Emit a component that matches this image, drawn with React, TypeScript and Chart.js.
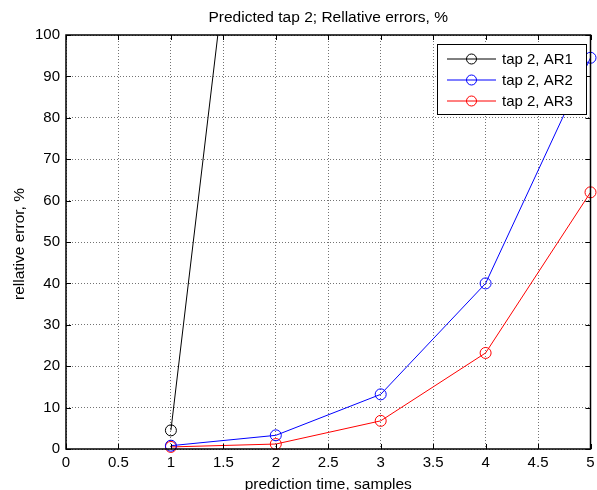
import React, { useEffect, useRef } from "react";
import { Chart, registerables } from "chart.js";

Chart.register(...registerables);

const titleText = "Predicted tap 2; Rellative errors, %";
const xTitle = "prediction time, samples";
const yTitle = "rellative error, %";

const xAR1 = [1, 2];
const ar1 = [4.5, 218];
const xSteps = [1, 2, 3, 4, 5];
const ar2 = [0.8, 3.3, 13.2, 40, 94.5];
const ar3 = [0.5, 1.2, 6.8, 23.2, 62];

const labels = ["tap 2, AR1", "tap 2, AR2", "tap 2, AR3"];
const colors = ["#000000", "#0000ff", "#ff0000"];

const FONT = "'Liberation Sans', Arial, sans-serif";

export default function App() {
  const ref = useRef<HTMLCanvasElement | null>(null);
  useEffect(() => {
    document.body.style.margin = "0";
    const ctx = ref.current!;
    const series = [xAR1.map((x, i) => ({ x, y: ar1[i] })), xSteps.map((x, i) => ({ x, y: ar2[i] })), xSteps.map((x, i) => ({ x, y: ar3[i] }))];

    const framePlugin = {
      id: "frame",
      afterDraw(chart: any) {
        const c = chart.ctx;
        const a = chart.chartArea;
        c.save();
        c.strokeStyle = "#000";
        c.lineWidth = 1;
        const xs = chart.scales.x;
        const ys = chart.scales.y;
        c.beginPath();
        xs.ticks.forEach((t: any) => {
          const px = Math.round(xs.getPixelForValue(t.value)) + 0.5;
          c.moveTo(px, a.bottom);
          c.lineTo(px, a.bottom - 5);
          c.moveTo(px, a.top);
          c.lineTo(px, a.top + 5);
        });
        ys.ticks.forEach((t: any) => {
          const py = Math.round(ys.getPixelForValue(t.value)) + 0.5;
          c.moveTo(a.left, py);
          c.lineTo(a.left + 5, py);
          c.moveTo(a.right, py);
          c.lineTo(a.right - 5, py);
        });
        c.stroke();
        c.lineWidth = 1.5;
        c.strokeRect(a.left, a.top, a.right - a.left, a.bottom - a.top);
        c.fillStyle = "#000";
        c.font = "15.5px " + FONT;
        c.textAlign = "center";
        c.textBaseline = "middle";
        c.fillText(titleText, (a.left + a.right) / 2, 18);
        c.fillText(xTitle, (a.left + a.right) / 2, 485);
        c.save();
        c.translate(20, (a.top + a.bottom) / 2 + 2);
        c.rotate(-Math.PI / 2);
        c.fillText(yTitle, 0, 0);
        c.restore();
        // legend
        const lx = 437, ly = 44, lw = 149, lh = 70;
        c.fillStyle = "#fff";
        c.fillRect(lx, ly, lw, lh);
        c.strokeStyle = "#000";
        c.lineWidth = 1;
        c.strokeRect(lx + 0.5, ly + 0.5, lw, lh);
        c.font = "15px " + FONT;
        c.textAlign = "left";
        labels.forEach((lab, i) => {
          const yy = ly + 15 + i * 21;
          c.strokeStyle = colors[i];
          c.beginPath();
          c.moveTo(447, yy);
          c.lineTo(496, yy);
          c.stroke();
          c.beginPath();
          c.arc(471.5, yy, 5, 0, Math.PI * 2);
          c.stroke();
          c.fillStyle = "#000";
          c.fillText(lab, 502, yy + 1);
        });
        c.restore();
      },
    };

    const fmt = (v: any) => String(Number(v));

    const chart = new Chart(ctx, {
      type: "line",
      data: {
        datasets: series.map((d, i) => ({
          label: labels[i],
          data: d,
          borderColor: colors[i],
          backgroundColor: "transparent",
          borderWidth: 1,
          pointRadius: 5.5,
          pointBorderWidth: 1,
          pointBackgroundColor: "transparent",
          pointBorderColor: colors[i],
          fill: false,
          tension: 0,
          clip: i === 0 ? 0 : 8,
        })),
      },
      options: {
        animation: false,
        responsive: false,
        events: [],
        layout: { padding: { top: 35, right: 6, left: 0, bottom: 0 } },
        plugins: { legend: { display: false }, title: { display: false }, tooltip: { enabled: false } },
        scales: {
          x: {
            type: "linear",
            min: 0,
            max: 5,
            ticks: { stepSize: 0.5, color: "#000", font: { size: 15, family: FONT }, padding: 5, maxRotation: 0, autoSkip: false, callback: fmt },
            grid: { color: "rgba(0,0,0,0.55)", tickLength: 0, drawTicks: false },
            border: { display: false, dash: [1, 2] },
            afterFit(s: any) {
              s.height = 41;
              s.paddingLeft = 0;
              s.paddingRight = 0;
            },
          },
          y: {
            type: "linear",
            min: 0,
            max: 100,
            ticks: { stepSize: 10, color: "#000", font: { size: 15, family: FONT }, padding: 6, callback: fmt },
            grid: { color: "rgba(0,0,0,0.55)", tickLength: 0, drawTicks: false },
            border: { display: false, dash: [1, 2] },
            afterFit(s: any) {
              s.width = 66;
              s.paddingTop = 0;
              s.paddingBottom = 0;
            },
          },
        },
      },
      plugins: [framePlugin],
    });
    return () => chart.destroy();
  }, []);
  return (
    <div style={{ position: "absolute", left: 0, top: 0, width: 597, height: 490 }}>
      <canvas ref={ref} width={597} height={490} style={{ width: 597, height: 490 }} />
    </div>
  );
}
